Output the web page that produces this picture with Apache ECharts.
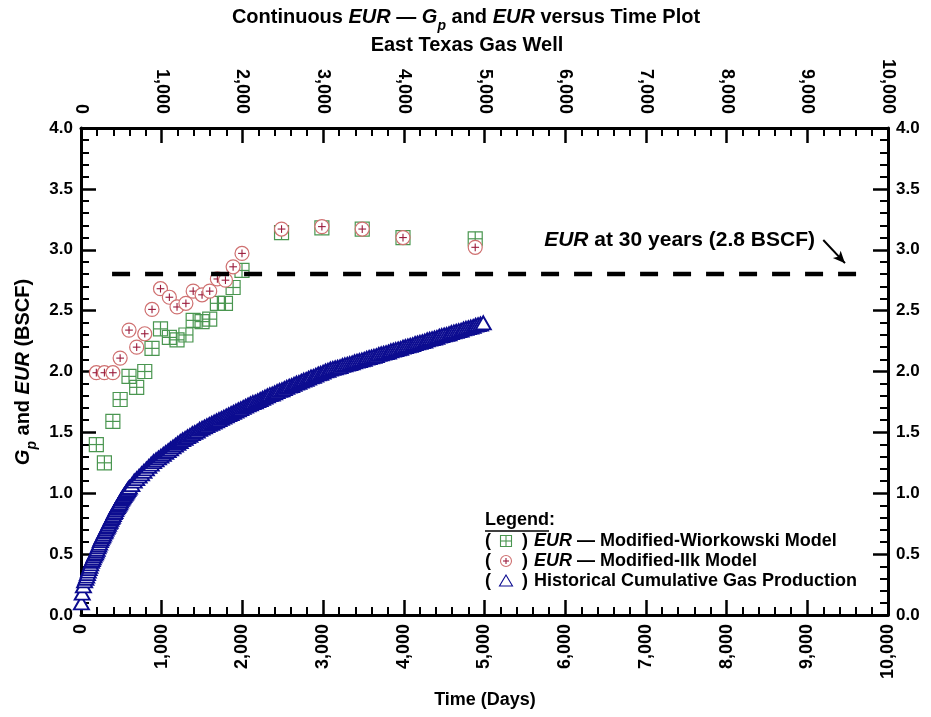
<!DOCTYPE html>
<html>
<head>
<meta charset="utf-8">
<script src="https://cdn.jsdelivr.net/npm/echarts@6/dist/echarts.min.js"></script>
<style>html,body{margin:0;padding:0;background:#fff}#c{width:931px;height:717px}</style>
</head>
<body>
<div id="c"></div>
<script>
// ---------------- data ----------------
const xTickValues = [0, 1000, 2000, 3000, 4000, 5000, 6000, 7000, 8000, 9000, 10000];
const yTickValues = [0.0, 0.5, 1.0, 1.5, 2.0, 2.5, 3.0, 3.5, 4.0];

const timeEur = [190, 290, 395, 485, 595, 690, 790, 880, 985, 1095, 1190, 1300, 1390, 1500, 1595, 1690, 1790, 1885, 1995, 2485, 2985, 3485, 3990, 4885];
const eurWiorkowski = [1.40, 1.25, 1.59, 1.77, 1.96, 1.87, 2.00, 2.19, 2.35, 2.28, 2.26, 2.30, 2.42, 2.41, 2.43, 2.56, 2.56, 2.69, 2.83, 3.14, 3.18, 3.17, 3.10, 3.09];
const eurIlk = [1.99, 1.99, 1.99, 2.11, 2.34, 2.20, 2.31, 2.51, 2.68, 2.61, 2.53, 2.56, 2.66, 2.63, 2.66, 2.76, 2.75, 2.86, 2.97, 3.17, 3.19, 3.17, 3.10, 3.02];

const timeProd = [5, 15, 30, 45,
  60, 70, 80, 90, 100, 110, 120, 130, 140, 150, 160, 170, 180, 190, 200, 210, 220, 230, 240, 250, 260, 270, 280, 290,
  300, 310, 320, 330, 340, 350, 360, 370, 380, 390, 400, 410, 420, 430, 440, 450, 460, 470, 480, 490,
  500, 510, 520, 530, 540, 550, 560, 570, 580, 590,
  600, 630, 660, 690, 720, 750, 780, 810, 840, 870, 900, 930, 960, 990, 1020, 1050, 1080, 1110, 1140, 1170,
  1200, 1230, 1260, 1290, 1320, 1350, 1380, 1410, 1440, 1470, 1500, 1530, 1560, 1590, 1620, 1650, 1680, 1710, 1740, 1770,
  1800, 1830, 1860, 1890, 1920, 1950, 1980, 2010, 2040, 2070, 2100, 2130, 2160, 2190, 2220, 2250, 2280, 2310, 2340, 2370,
  2400, 2430, 2460, 2490, 2520, 2550, 2580, 2610, 2640, 2670, 2700, 2730, 2760, 2790, 2820, 2850, 2880, 2910, 2940, 2970,
  3000, 3030, 3060, 3090, 3120, 3150, 3180, 3210, 3240, 3270, 3300, 3330, 3360, 3390, 3420, 3450, 3480, 3510, 3540, 3570,
  3600, 3630, 3660, 3690, 3720, 3750, 3780, 3810, 3840, 3870, 3900, 3930, 3960, 3990, 4020, 4050, 4080, 4110, 4140, 4170,
  4200, 4230, 4260, 4290, 4320, 4350, 4380, 4410, 4440, 4470, 4500, 4530, 4560, 4590, 4620, 4650, 4680, 4710, 4740, 4770,
  4800, 4830, 4860, 4890, 4920, 4950, 4985];
const gpProd = [0.10, 0.18, 0.24, 0.28,
  0.30, 0.32, 0.34, 0.36, 0.38, 0.40, 0.42, 0.44, 0.455, 0.47, 0.485, 0.50, 0.51, 0.525, 0.54, 0.56, 0.575, 0.59, 0.61, 0.625, 0.64, 0.65, 0.665, 0.68,
  0.69, 0.705, 0.72, 0.73, 0.745, 0.76, 0.77, 0.785, 0.80, 0.81, 0.825, 0.84, 0.85, 0.865, 0.88, 0.89, 0.90, 0.91, 0.92, 0.935,
  0.95, 0.96, 0.97, 0.98, 0.99, 1.00, 1.01, 1.02, 1.03, 1.04,
  1.05, 1.07, 1.10, 1.12, 1.14, 1.16, 1.18, 1.20, 1.22, 1.24, 1.26, 1.275, 1.29, 1.305, 1.32, 1.335, 1.35, 1.365, 1.38, 1.395,
  1.41, 1.425, 1.44, 1.45, 1.465, 1.475, 1.49, 1.50, 1.51, 1.525, 1.535, 1.545, 1.555, 1.565, 1.575, 1.585, 1.595, 1.605, 1.615, 1.625,
  1.635, 1.645, 1.655, 1.665, 1.675, 1.685, 1.695, 1.705, 1.715, 1.725, 1.735, 1.745, 1.75, 1.76, 1.77, 1.78, 1.79, 1.80, 1.81, 1.815,
  1.825, 1.835, 1.845, 1.85, 1.86, 1.87, 1.88, 1.885, 1.895, 1.905, 1.91, 1.92, 1.93, 1.935, 1.945, 1.955, 1.96, 1.97, 1.98, 1.985,
  1.995, 2.005, 2.01, 2.02, 2.025, 2.03, 2.035, 2.04, 2.05, 2.055, 2.06, 2.065, 2.07, 2.08, 2.085, 2.09, 2.095, 2.10, 2.11, 2.115,
  2.12, 2.125, 2.13, 2.14, 2.145, 2.15, 2.155, 2.16, 2.17, 2.175, 2.18, 2.185, 2.19, 2.20, 2.205, 2.21, 2.215, 2.22, 2.23, 2.235,
  2.24, 2.245, 2.25, 2.26, 2.265, 2.27, 2.275, 2.28, 2.29, 2.295, 2.30, 2.305, 2.31, 2.32, 2.325, 2.33, 2.335, 2.34, 2.35, 2.355,
  2.36, 2.365, 2.37, 2.38, 2.385, 2.39, 2.40];

const eur30Value = 2.8;
const eur30LineX = [385, 9690];
const arrowFrom = [9198, 3.08];
const arrowTo = [9467, 2.89];
const annotationAnchor = [9095, 3.08];

// ---------------- style ----------------
const FONT = '"Liberation Sans", Arial, sans-serif';
const GREEN = '#4a9650';
const RED_RING = '#cf7070';
const RED_PLUS = '#9b1c3c';
const NAVY = '#0c0c90';

const commaFmt = v => String(v).replace(/\B(?=(\d{3})+(?!\d))/g, ',');

function xAxisCfg(pos) {
  return {
    type: 'value', position: pos, min: xTickValues[0], max: xTickValues[xTickValues.length - 1],
    interval: xTickValues[1] - xTickValues[0],
    axisLine: { show: true, onZero: false, lineStyle: { color: '#000', width: 3 } },
    axisTick: { show: true, inside: true, length: 15, lineStyle: { color: '#000', width: 2.5 } },
    minorTick: { show: true, splitNumber: 5, length: 8, lineStyle: { color: '#000', width: 2 } },
    splitLine: { show: false },
    axisLabel: { rotate: 90, margin: pos === 'top' ? 14 : 9, color: '#000', fontFamily: FONT, fontWeight: 'bold', fontSize: 18, formatter: commaFmt }
  };
}
function yAxisCfg(pos) {
  return {
    type: 'value', position: pos, min: yTickValues[0], max: yTickValues[yTickValues.length - 1],
    interval: yTickValues[1] - yTickValues[0],
    axisLine: { show: true, onZero: false, lineStyle: { color: '#000', width: 3 } },
    axisTick: { show: true, inside: true, length: 15, lineStyle: { color: '#000', width: 2.5 } },
    minorTick: { show: true, splitNumber: 5, length: 8, lineStyle: { color: '#000', width: 2 } },
    splitLine: { show: false },
    axisLabel: { margin: 8, color: '#000', fontFamily: FONT, fontWeight: 'bold', fontSize: 17, formatter: v => v.toFixed(1) }
  };
}

function squarePlusShape(cx, cy, size, color, lw) {
  const h = size / 2;
  return [
    { type: 'rect', shape: { x: cx - h, y: cy - h, width: size, height: size }, style: { fill: 'none', stroke: color, lineWidth: lw } },
    { type: 'line', shape: { x1: cx - h, y1: cy, x2: cx + h, y2: cy }, style: { stroke: color, lineWidth: lw } },
    { type: 'line', shape: { x1: cx, y1: cy - h, x2: cx, y2: cy + h }, style: { stroke: color, lineWidth: lw } }
  ];
}
function circlePlusShape(cx, cy, r, lw) {
  const p = r * 0.55;
  return [
    { type: 'circle', shape: { cx: cx, cy: cy, r: r }, style: { fill: '#fff', stroke: RED_RING, lineWidth: lw } },
    { type: 'line', shape: { x1: cx - p, y1: cy, x2: cx + p, y2: cy }, style: { stroke: RED_PLUS, lineWidth: 1.1 } },
    { type: 'line', shape: { x1: cx, y1: cy - p, x2: cx, y2: cy + p }, style: { stroke: RED_PLUS, lineWidth: 1.1 } }
  ];
}

const chart = echarts.init(document.getElementById('c'), null, { renderer: 'canvas' });

const option = {
  animation: false,
  backgroundColor: '#fff',
  grid: { left: 81, top: 128, width: 807, height: 487, containLabel: false },
  xAxis: [xAxisCfg('bottom'), xAxisCfg('top')],
  yAxis: [yAxisCfg('left'), yAxisCfg('right')],
  series: [
    {
      name: 'Historical Cumulative Gas Production', type: 'scatter', xAxisIndex: 0, yAxisIndex: 0,
      symbol: 'triangle', symbolSize: [15, 13], clip: false, large: false,
      itemStyle: { color: '#fff', borderColor: NAVY, borderWidth: 1.9, opacity: 1 },
      data: timeProd.map((t, i) => [t, gpProd[i]]), z: 3
    },
    {
      name: 'EUR — Modified-Wiorkowski Model', type: 'custom', xAxisIndex: 0, yAxisIndex: 0,
      renderItem: (params, api) => {
        const p = api.coord([api.value(0), api.value(1)]);
        return { type: 'group', children: squarePlusShape(p[0], p[1], 14, GREEN, 1.2) };
      },
      data: timeEur.map((t, i) => [t, eurWiorkowski[i]]), z: 4
    },
    {
      name: 'EUR — Modified-Ilk Model', type: 'custom', xAxisIndex: 0, yAxisIndex: 0,
      renderItem: (params, api) => {
        const p = api.coord([api.value(0), api.value(1)]);
        return { type: 'group', children: circlePlusShape(p[0], p[1], 7, 1.2) };
      },
      data: timeEur.map((t, i) => [t, eurIlk[i]]), z: 5
    },
    {
      name: 'EUR at 30 years', type: 'line', xAxisIndex: 0, yAxisIndex: 0,
      symbol: 'none', silent: true, z: 6,
      lineStyle: { color: '#000', width: 4.5, type: [18, 15] },
      data: eur30LineX.map(x => [x, eur30Value]),
      markLine: {
        silent: true, symbol: ['none', 'arrow'], symbolSize: [8, 12],
        lineStyle: { color: '#000', width: 2, type: 'solid' }, label: { show: false },
        data: [[{ coord: arrowFrom }, { coord: arrowTo }]]
      }
    }
  ]
};
chart.setOption(option);

// ---------------- text / legend graphics ----------------
const anchor = chart.convertToPixel({ gridIndex: 0 }, annotationAnchor);
const boldText = { fontFamily: FONT, fontWeight: 'bold', fill: '#000' };
function richSet(fs) {
  return {
    i: { fontFamily: FONT, fontWeight: 'bold', fontStyle: 'italic', fontSize: fs, color: '#000' },
    n: { fontFamily: FONT, fontWeight: 'bold', fontSize: fs, color: '#000' },
    sub: { fontFamily: FONT, fontWeight: 'bold', fontStyle: 'italic', fontSize: Math.round(fs * 0.68), color: '#000', verticalAlign: 'bottom', lineHeight: fs + 12 }
  };
}

const lx = 506; // legend icon centre x
const legendRows = [541, 561, 581];
const graphics = [
  // title
  { type: 'text', x: 466, y: 17, style: { text: '{n|Continuous }{i|EUR}{n| — }{i|G}{sub|p}{n| and }{i|EUR}{n| versus Time Plot}', rich: richSet(20), align: 'center', verticalAlign: 'middle' } },
  { type: 'text', x: 467, y: 45, style: Object.assign({ text: 'East Texas Gas Well', fontSize: 20, align: 'center', verticalAlign: 'middle' }, boldText) },
  // axis names
  { type: 'text', x: 485, y: 700, style: Object.assign({ text: 'Time (Days)', fontSize: 18, align: 'center', verticalAlign: 'middle' }, boldText) },
  { type: 'text', x: 23, y: 372, rotation: Math.PI / 2, style: { text: '{i|G}{sub|p}{n| and }{i|EUR}{n| (BSCF)}', rich: richSet(20), align: 'center', verticalAlign: 'middle' } },
  // annotation
  { type: 'text', x: anchor[0], y: anchor[1], style: { text: '{i|EUR}{n| at 30 years (2.8 BSCF)}', rich: richSet(21), align: 'right', verticalAlign: 'middle' } },
  // legend
  { type: 'text', x: 485, y: 520, style: Object.assign({ text: 'Legend', fontSize: 18, align: 'left', verticalAlign: 'middle' }, boldText) },
  { type: 'text', x: 549, y: 520, style: Object.assign({ text: ':', fontSize: 18, align: 'left', verticalAlign: 'middle' }, boldText) },
  { type: 'line', shape: { x1: 485, y1: 531, x2: 549, y2: 531 }, style: { stroke: '#000', lineWidth: 1.5 } }
];
const rowTexts = [
  '{i|EUR}{n| — Modified-Wiorkowski Model}',
  '{i|EUR}{n| — Modified-Ilk Model}',
  '{n|Historical Cumulative Gas Production}'
];
const richLegend = {
  i: { fontFamily: FONT, fontWeight: 'bold', fontStyle: 'italic', fontSize: 18, color: '#000' },
  n: { fontFamily: FONT, fontWeight: 'bold', fontSize: 18, color: '#000' }
};
legendRows.forEach((y, k) => {
  graphics.push({ type: 'text', x: 485, y: y, style: Object.assign({ text: '(', fontSize: 18, align: 'left', verticalAlign: 'middle' }, boldText) });
  graphics.push({ type: 'text', x: 522, y: y, style: Object.assign({ text: ')', fontSize: 18, align: 'left', verticalAlign: 'middle' }, boldText) });
  graphics.push({ type: 'text', x: 534, y: y, style: { text: rowTexts[k], rich: richLegend, align: 'left', verticalAlign: 'middle' } });
});
squarePlusShape(lx, legendRows[0], 11, GREEN, 1.1).forEach(s => graphics.push(s));
circlePlusShape(lx, legendRows[1], 5.5, 1.1).forEach(s => graphics.push(s));
graphics.push({ type: 'polygon', shape: { points: [[lx, legendRows[2] - 6], [lx - 6.5, legendRows[2] + 5], [lx + 6.5, legendRows[2] + 5]] }, style: { fill: '#fff', stroke: NAVY, lineWidth: 1.1 } });

chart.setOption({ graphic: graphics.map(g => Object.assign({ z: 100 }, g)) });
</script>
</body>
</html>
